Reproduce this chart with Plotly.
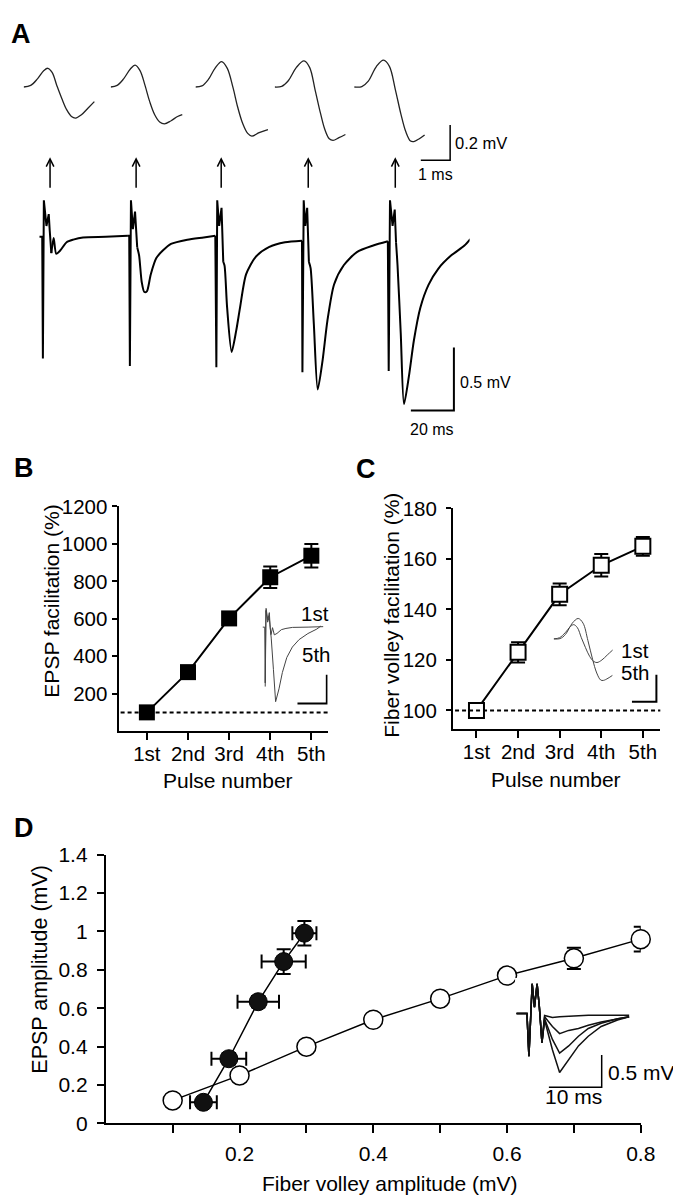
import plotly.graph_objects as go

W, H = 681, 1199
FONT = "Liberation Sans, Arial, sans-serif"

# ---------------- Panel B / C data ----------------
PULSES = ["1st", "2nd", "3rd", "4th", "5th"]
EPSP_FACIL = [100, 315, 602, 822, 937]
EPSP_FACIL_ERR = [8, 18, 25, 58, 63]
FV_FACIL = [100, 123, 146, 157.5, 165]
FV_FACIL_ERR = [1.5, 4, 4.3, 4.5, 3.7]
BASELINE_PCT = 100

# ---------------- Panel D data ----------------
TRAIN_FV = [0.146, 0.184, 0.228, 0.266, 0.297]
TRAIN_FV_ERR = [0.02, 0.026, 0.031, 0.033, 0.018]
TRAIN_EPSP = [0.11, 0.337, 0.634, 0.843, 0.991]
TRAIN_EPSP_ERR = [0.02, 0.03, 0.03, 0.064, 0.064]
IO_FV = [0.1, 0.2, 0.3, 0.4, 0.5, 0.6, 0.7, 0.8]
IO_EPSP = [0.12, 0.25, 0.40, 0.54, 0.65, 0.77, 0.86, 0.96]
IO_EPSP_ERR = [0.01, 0.01, 0.01, 0.01, 0.01, 0.015, 0.055, 0.065]

# ---------------- Panel A: fiber volleys (ms, mV) ----------------
FV_T = [
    [0, 0.24, 0.47, 0.69, 0.82, 0.97, 1.13, 1.3, 1.47, 1.63, 1.77, 1.97, 2.19, 2.41],
    [0, 0.22, 0.44, 0.67, 0.83, 1.0, 1.17, 1.33, 1.5, 1.67, 1.83, 2.06, 2.28, 2.44],
    [0, 0.22, 0.44, 0.67, 0.89, 1.08, 1.28, 1.44, 1.61, 1.78, 1.92, 2.17, 2.47],
    [0, 0.24, 0.47, 0.74, 1.0, 1.19, 1.38, 1.56, 1.71, 1.86, 1.99, 2.19, 2.41],
    [0, 0.26, 0.48, 0.76, 1.0, 1.2, 1.4, 1.59, 1.76, 1.92, 2.03, 2.22, 2.4],
]
FV_V = [
    [0, 0.009, 0.046, 0.093, 0.106, 0.083, 0.009, -0.065, -0.13, -0.167, -0.176, -0.157, -0.12, -0.083],
    [0, 0.009, 0.046, 0.102, 0.124, 0.093, 0.009, -0.083, -0.157, -0.198, -0.209, -0.191, -0.167, -0.157],
    [0, 0.006, 0.043, 0.107, 0.144, 0.107, -0.004, -0.115, -0.207, -0.263, -0.278, -0.259, -0.241],
    [0, 0.004, 0.037, 0.111, 0.148, 0.111, -0.019, -0.148, -0.241, -0.293, -0.302, -0.287, -0.269],
    [0, 0.002, 0.033, 0.117, 0.152, 0.117, -0.013, -0.152, -0.254, -0.306, -0.309, -0.293, -0.272],
]

# ---------------- Panel A: EPSP train (ms, mV) ----------------
STIM_T = [1.67, 42.1, 82.3, 122.3, 162.4]
EPSP_T = [
    [0, 1.36, 1.67, 2.12, 3.33, 4.39, 4.85, 5.6, 6.67, 7.88, 9.7, 12.7, 15.8, 20.3, 30.9, 41.2],
    [41.8, 42.1, 42.6, 43.5, 44.5, 45.5, 46.4, 47.6, 48.8, 50, 51.8, 54.4, 57.4, 61.2, 68.8, 76.4, 81.8],
    [82.3, 82.7, 83.6, 84.7, 85.5, 86.1, 87.3, 89.4, 91.5, 93.3, 96.1, 100.6, 106.7, 114.2, 122.1],
    [122.3, 122.9, 123.6, 124.5, 125.3, 126.1, 127.6, 129.4, 131.7, 133.9, 137, 141.5, 147.6, 155.2, 162],
    [162.4, 163, 164.2, 165.2, 165.8, 166.5, 168, 169.5, 171.8, 174.1, 177.1, 180.9, 185.5, 191.5, 197.6, 200.3],
]
EPSP_V = [
    [0, 0, -0.97, 0.29, 0.086, 0.18, 0.05, -0.13, -0.01, -0.135, -0.11, -0.044, -0.023, -0.005, 0, 0.008],
    [0.008, -1.03, 0.29, 0.06, 0.2, -0.083, -0.15, -0.36, -0.44, -0.435, -0.30, -0.17, -0.11, -0.057, -0.023, -0.005, 0.008],
    [-1.04, 0.29, 0.086, 0.23, -0.2, -0.23, -0.565, -0.917, -0.75, -0.565, -0.30, -0.16, -0.083, -0.044, -0.031],
    [-1.08, 0.29, 0.086, 0.23, -0.2, -0.25, -0.695, -1.216, -0.98, -0.67, -0.38, -0.227, -0.122, -0.07, -0.036],
    [-1.07, 0.29, 0.086, 0.216, -0.044, -0.227, -0.77, -1.333, -1.11, -0.826, -0.565, -0.383, -0.253, -0.148, -0.07, -0.018],
]
# number of leading points in each segment that belong to the stimulus artifact
ARTIFACT_N = [8, 6, 5, 5, 5]

# ---------------- Panel D inset: EPSPs at increasing intensity (ms, mV) ----------------
INSET_D_T = [-2.22, -0.25, 0.12, 0.74, 1.17, 1.67, 2.1, 2.59, 3.09, 4.57, 5.93, 7.65, 9.5, 11.36, 13.8, 16.9, 19.1]
INSET_D_V = [
    [0, 0, -0.66, 0.46, 0.1, 0.46, 0.1, -0.45, -0.03, -0.06, -0.05, -0.04, -0.03, -0.025, -0.025, -0.025, -0.025],
    [0, 0, -0.66, 0.46, 0.1, 0.46, 0.1, -0.45, -0.05, -0.2, -0.31, -0.26, -0.23, -0.18, -0.13, -0.08, -0.05],
    [0, 0, -0.66, 0.46, 0.1, 0.46, 0.1, -0.45, -0.08, -0.4, -0.61, -0.5, -0.35, -0.23, -0.15, -0.08, -0.05],
    [0, 0, -0.66, 0.46, 0.1, 0.46, 0.1, -0.45, -0.1, -0.56, -0.91, -0.71, -0.5, -0.35, -0.2, -0.1, -0.05],
]


# ---------------- helpers ----------------
def dx(a, b):
    return [a / W, b / W]


def dy(top, bottom):
    return [1 - bottom / H, 1 - top / H]


def txt(text, x, y, size=20, xanchor="left", bold=False, angle=0):
    return dict(text=f"<b>{text}</b>" if bold else text, x=x / W, y=1 - y / H,
                xref="paper", yref="paper", xanchor=xanchor, yanchor="middle",
                showarrow=False, textangle=angle,
                font=dict(family=FONT, size=size, color="black"))


AX = dict(showline=True, linecolor="black", linewidth=2, ticks="outside", ticklen=6,
          tickwidth=2, tickcolor="black", showgrid=False, zeroline=False, fixedrange=True,
          tickfont=dict(family=FONT, size=20.5, color="black"))
HID = dict(visible=False, fixedrange=True, showgrid=False, zeroline=False)

fig = go.Figure()
layout = dict(width=W, height=H, margin=dict(l=0, r=0, t=0, b=0),
              paper_bgcolor="white", plot_bgcolor="white", showlegend=False,
              font=dict(family=FONT, color="black", size=20))

# ---- Panel B (axis 1) ----
layout["xaxis"] = dict(AX, domain=dx(113, 327), anchor="y", type="category",
                       categoryorder="array", categoryarray=PULSES, range=[-0.69, 4.4],
                       ticklen=7, ticklabelstandoff=-4)
layout["yaxis"] = dict(AX, domain=dy(496, 725), anchor="x", range=[0, 1200],
                       tickvals=[200, 400, 600, 800, 1000, 1200], ticklen=5)
fig.add_trace(go.Scatter(x=PULSES, y=EPSP_FACIL, xaxis="x", yaxis="y", mode="lines+markers",
                         line=dict(color="black", width=2), cliponaxis=False,
                         marker=dict(symbol="square", size=16, color="black"),
                         error_y=dict(type="data", array=EPSP_FACIL_ERR, color="black",
                                      thickness=2, width=7)))

# ---- Panel C (axis 2) ----
layout["xaxis2"] = dict(AX, domain=dx(455, 667), anchor="y2", type="category",
                        categoryorder="array", categoryarray=PULSES, range=[-0.565, 4.42],
                        ticklen=7, ticklabelstandoff=-4)
layout["yaxis2"] = dict(AX, domain=dy(498, 723), anchor="x2", range=[92.6, 180],
                        tickvals=[100, 120, 140, 160, 180], ticklen=5, ticklabelstandoff=5)
fig.add_trace(go.Scatter(x=PULSES, y=FV_FACIL, xaxis="x2", yaxis="y2", mode="lines+markers",
                         line=dict(color="black", width=2), cliponaxis=False,
                         marker=dict(symbol="square", size=15, color="white",
                                     line=dict(color="black", width=2)),
                         error_y=dict(type="data", array=FV_FACIL_ERR, color="black",
                                      thickness=2, width=7)))

# ---- Panel D (axis 3) ----
layout["xaxis3"] = dict(AX, domain=dx(100, 647), anchor="y3", range=[0, 0.8],
                        tickvals=IO_FV, ticklen=8, ticklabelstandoff=2,
                        ticktext=["" if i % 2 == 0 else f"{v:g}" for i, v in enumerate(IO_FV)],
                        tickfont=dict(family=FONT, size=21, color="black"))
layout["yaxis3"] = dict(AX, domain=dy(851, 1125), anchor="x3", range=[0, 1.4],
                        tickvals=[0, 0.2, 0.4, 0.6, 0.8, 1, 1.2, 1.4], ticklen=7,
                        ticklabelstandoff=5,
                        tickfont=dict(family=FONT, size=21, color="black"))
fig.add_trace(go.Scatter(x=IO_FV, y=IO_EPSP, xaxis="x3", yaxis="y3", mode="lines+markers",
                         line=dict(color="black", width=1.5), cliponaxis=False,
                         marker=dict(symbol="circle", size=19, color="white",
                                     line=dict(color="black", width=1.5)),
                         error_y=dict(type="data", array=IO_EPSP_ERR, color="black",
                                      thickness=2, width=7)))
fig.add_trace(go.Scatter(x=TRAIN_FV, y=TRAIN_EPSP, xaxis="x3", yaxis="y3", mode="lines+markers",
                         line=dict(color="black", width=1.5), cliponaxis=False,
                         marker=dict(symbol="circle", size=18, color="#111111",
                                     line=dict(color="black", width=1)),
                         error_x=dict(type="data", array=TRAIN_FV_ERR, color="black",
                                      thickness=2, width=7),
                         error_y=dict(type="data", array=TRAIN_EPSP_ERR, color="black",
                                      thickness=2, width=7)))

# ---- Panel A EPSP train (axis 4): 2.2 px/ms, 128 px/mV ----
layout["xaxis4"] = dict(HID, domain=dx(32, 472), anchor="y4", range=[0, 200])
layout["yaxis4"] = dict(HID, domain=dy(176.2, 406.6), anchor="x4", range=[-1.45, 0.35])
prev = None
for k in range(5):
    n = ARTIFACT_N[k]
    at = ([prev[0]] if prev else []) + EPSP_T[k][:n]
    av = ([prev[1]] if prev else []) + EPSP_V[k][:n]
    fig.add_trace(go.Scatter(x=at, y=av, xaxis="x4", yaxis="y4", mode="lines",
                             line=dict(color="black", width=2), cliponaxis=False))
    fig.add_trace(go.Scatter(x=EPSP_T[k][n - 1:], y=EPSP_V[k][n - 1:], xaxis="x4", yaxis="y4",
                             mode="lines", cliponaxis=False,
                             line=dict(color="black", width=2, shape="spline", smoothing=0.7)))
    prev = (EPSP_T[k][-1], EPSP_V[k][-1])
# scale bar 20 ms / 0.5 mV
fig.add_trace(go.Scatter(x=[172.7, 192.7, 192.7], y=[-1.383, -1.383, -0.883], xaxis="x4",
                         yaxis="y4", mode="lines", line=dict(color="black", width=2),
                         cliponaxis=False))

# ---- Panel A fiber volleys (axes 5..9): 30 px/ms, 180 px/mV ----
FV_LEFT = [16, 105, 191.7, 272.7, 354]
for i in range(5):
    n = 5 + i
    layout[f"xaxis{n}"] = dict(HID, domain=dx(FV_LEFT[i], FV_LEFT[i] + 102), anchor=f"y{n}",
                               range=[0, 3.4])
    layout[f"yaxis{n}"] = dict(HID, domain=dy(32.3, 149.3), anchor=f"x{n}", range=[-0.45, 0.2])
    fig.add_trace(go.Scatter(x=FV_T[i], y=FV_V[i], xaxis=f"x{n}", yaxis=f"y{n}", mode="lines",
                             line=dict(color="#222222", width=1.3, shape="spline"),
                             cliponaxis=False))
# scale bar 1 ms / 0.2 mV
fig.add_trace(go.Scatter(x=[2.27, 3.27, 3.27], y=[-0.415, -0.415, -0.215], xaxis="x9",
                         yaxis="y9", mode="lines", line=dict(color="black", width=1.5),
                         cliponaxis=False))

# ---- Inset B (axis 10): 1st and 5th EPSP, 1.5 px/ms, 58.6 px/mV ----
layout["xaxis10"] = dict(HID, domain=dx(257, 326.75), anchor="y10", range=[-4, 42.5])
layout["yaxis10"] = dict(HID, domain=dy(592.6, 704), anchor="x10", range=[-1.45, 0.45])
for k, base in ((0, EPSP_V[0][0]), (4, EPSP_V[3][-1])):
    fig.add_trace(go.Scatter(x=[t - STIM_T[k] for t in EPSP_T[k]],
                             y=[v - base for v in EPSP_V[k]],
                             xaxis="x10", yaxis="y10", mode="lines",
                             line=dict(color="#444444", width=1), cliponaxis=False))
fig.add_trace(go.Scatter(x=[22, 42, 42], y=[-1.33, -1.33, -0.83], xaxis="x10", yaxis="y10",
                         mode="lines", line=dict(color="black", width=2), cliponaxis=False))

# ---- Inset C (axis 11): 1st and 5th fiber volley, 25 px/ms, 137 px/mV ----
layout["xaxis11"] = dict(HID, domain=dx(558, 668), anchor="y11", range=[0, 4.4])
layout["yaxis11"] = dict(HID, domain=dy(603.6, 699.5), anchor="x11", range=[-0.5, 0.2])
for k in (0, 4):
    fig.add_trace(go.Scatter(x=FV_T[k], y=FV_V[k], xaxis="x11", yaxis="y11", mode="lines",
                             line=dict(color="#444444", width=1, shape="spline"),
                             cliponaxis=False))
fig.add_trace(go.Scatter(x=[3.2, 4.2, 4.2], y=[-0.467, -0.467, -0.267], xaxis="x11",
                         yaxis="y11", mode="lines", line=dict(color="black", width=2),
                         cliponaxis=False))

# ---- Inset D (axis 12): 5.4 px/ms, 66 px/mV ----
layout["xaxis12"] = dict(HID, domain=dx(518.5, 637.3), anchor="y12", range=[-2.5, 19.5])
layout["yaxis12"] = dict(HID, domain=dy(976.7, 1088.9), anchor="x12", range=[-1.15, 0.55])
for vs in INSET_D_V:
    fig.add_trace(go.Scatter(x=INSET_D_T, y=vs, xaxis="x12", yaxis="y12", mode="lines",
                             line=dict(color="#111111", width=1.5), cliponaxis=False))
fig.add_trace(go.Scatter(x=[3.9, 13.9, 13.9], y=[-1.14, -1.14, -0.64], xaxis="x12",
                         yaxis="y12", mode="lines", line=dict(color="black", width=1.5),
                         cliponaxis=False))

# ---- dashed 100 % lines ----
layout["shapes"] = [
    dict(type="line", xref="x domain", yref="y", x0=0.01, x1=1.0, y0=BASELINE_PCT,
         y1=BASELINE_PCT, line=dict(color="black", width=2, dash="4px,3px")),
    dict(type="line", xref="x2 domain", yref="y2", x0=0.01, x1=1.0, y0=BASELINE_PCT,
         y1=BASELINE_PCT, line=dict(color="black", width=2, dash="4px,3px")),
]

# ---- texts ----
ann = [
    txt("A", 1, 14, size=27, bold=True),
    txt("B", 4, 457, size=27, bold=True),
    txt("C", 354, 458, size=27, bold=True),
    txt("D", 4, 824, size=27, bold=True),
    txt("0.2 mV", 455, 125, size=16.5),
    txt("1 ms", 437, 158, size=16, xanchor="center"),
    txt("0.5 mV", 460, 370, size=16),
    txt("20 ms", 434, 417, size=16, xanchor="center"),
    txt("EPSP facilitation (%)", 45, 593, size=21, xanchor="center", angle=-90),
    txt("Pulse number", 225, 775, size=21, xanchor="center"),
    txt("Fiber volley facilitation (%)", 392, 607, size=21, xanchor="center", angle=-90),
    txt("Pulse number", 560, 774, size=21, xanchor="center"),
    txt("1st", 298, 605, size=20.5),
    txt("5th", 299, 647, size=20.5),
    txt("1st", 625, 643, size=20.5),
    txt("5th", 625, 665, size=20.5),
    txt("EPSP amplitude (mV)", 33, 968, size=21.5, xanchor="center", angle=-90),
    txt("Fiber volley amplitude (mV)", 391, 1186, size=21, xanchor="center"),
    txt("0.5 mV", 611, 1073, size=21),
    txt("10 ms", 578, 1098, size=21, xanchor="center"),
]
# stimulus arrows
for xa in (43, 131, 218, 307, 396):
    ann.append(dict(text="", x=xa / W, y=1 - 140 / H, xref="paper", yref="paper",
                    showarrow=True, ax=0, ay=32, arrowhead=5, arrowsize=1,
                    arrowwidth=1.5, arrowcolor="black"))
layout["annotations"] = ann

fig.update_layout(**layout)
fig.write_html("out.html")
